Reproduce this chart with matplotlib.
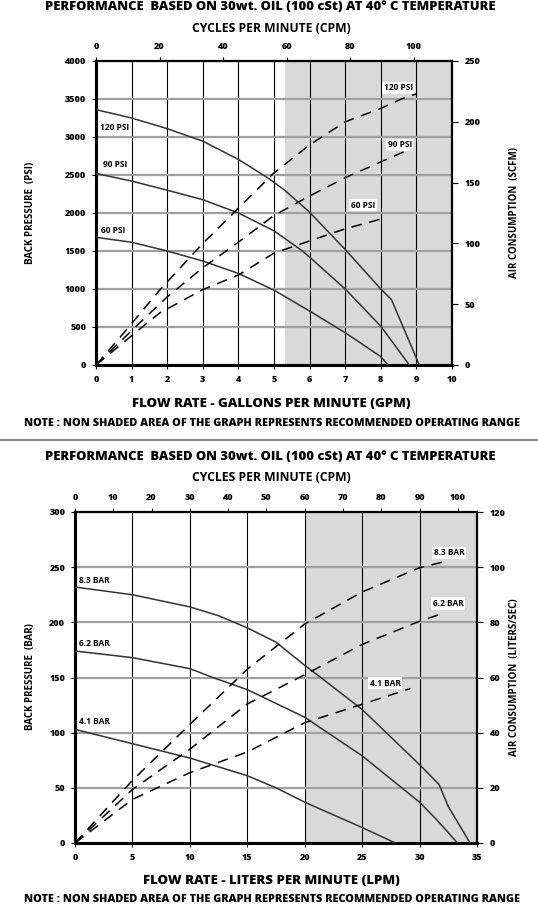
import matplotlib
matplotlib.use('Agg')
import matplotlib.pyplot as plt
from matplotlib.lines import Line2D

plt.rcParams['font.family'] = ['Open Sans', 'DejaVu Sans']
plt.rcParams['font.weight'] = 'bold'

# ---- top chart data (GPM / PSI / SCFM) ----
gpm_120 = [0, 1, 2, 3, 4, 4.8, 5.3, 6, 7, 8, 8.3, 8.7, 9.08]
psi_120 = [3360, 3250, 3110, 2945, 2705, 2470, 2300, 2010, 1520, 1000, 860, 420, 0]
gpm_90 = [0, 1, 2, 3, 4, 5, 5.8, 6, 7, 8, 8.3, 8.8]
psi_90 = [2520, 2420, 2300, 2175, 2000, 1765, 1500, 1420, 1000, 510, 320, 0]
gpm_60 = [0, 1, 2, 3, 4, 5, 6, 7, 8, 8.2]
psi_60 = [1680, 1615, 1500, 1368, 1205, 985, 710, 425, 110, 0]

gpm_air_120 = [0, 0.77, 1.8, 3, 4, 5, 6, 7, 8, 8.6, 9.0]
scfm_120 = [0, 26, 62, 100, 129, 158, 181, 200, 211, 219, 223]
gpm_air_90 = [0, 1.24, 2, 3, 4, 5, 6, 7, 8, 8.7]
scfm_90 = [0, 35, 56, 80, 101, 123, 139, 154, 167, 176]
gpm_air_60 = [0, 1.33, 1.8, 3, 4, 5, 6, 7, 8]
scfm_60 = [0, 32, 43, 62, 74, 92, 102, 112, 120]

# ---- bottom chart data (LPM / BAR / LITERS/SEC) ----
lpm_83 = [0, 5, 10, 12.5, 15, 17.5, 20, 21.4, 25, 30, 31.7, 32.5, 34.4]
bar_83 = [232, 225, 214, 206, 195, 182, 161, 150, 121, 71, 53, 33, 0]
lpm_62 = [0, 5, 10, 12, 15, 20, 25, 30, 31.5, 33.3]
bar_62 = [174, 168, 158, 150, 139, 114, 79, 37, 21, 0]
lpm_41 = [0, 5, 10, 15, 17.5, 20, 25, 27.9]
bar_41 = [103, 90, 77, 61, 50, 37, 14, 0]

lpm_air_83 = [0, 5, 10, 15, 20, 25, 30, 32.2]
lps_83 = [0, 22.7, 43, 63, 79.4, 91, 99.8, 102]
lpm_air_62 = [0, 5, 10, 15, 20, 25, 30, 32]
lps_62 = [0, 19.4, 34, 50.4, 61, 72, 80.4, 83.2]
lpm_air_41 = [0, 5, 10, 15, 20, 25, 29.2]
lps_41 = [0, 15.8, 25.5, 33, 43.6, 50.3, 56]

W, H = 538, 907
fig = plt.figure(figsize=(W / 100, H / 100), dpi=100)

title = 'PERFORMANCE  BASED ON 30wt. OIL (100 cSt) AT 40\u00b0 C TEMPERATURE'
note = 'NOTE : NON SHADED AREA OF THE GRAPH REPRESENTS RECOMMENDED OPERATING RANGE'
solid_col = '#333333'
tick_fs = 6.5


def fy(py):
    return 1 - py / H


def make_chart(box, xmax, xstep, ymax, ystep, shade_from, rmax, rstep, cpm_max, cpm_step):
    l, t, r, b = box
    ax = fig.add_axes([l / W, fy(b), (r - l) / W, (b - t) / H])
    ax.set_xlim(0, xmax)
    ax.set_ylim(0, ymax)
    ax.set_xticks(range(0, xmax + 1, xstep))
    ax.set_yticks(range(0, ymax + 1, ystep))
    ax.axvspan(shade_from, xmax, color='#d9d9d9', zorder=0, lw=0)
    ax.xaxis.grid(True, color='black', lw=0.8)
    ax.yaxis.grid(True, color='#a0a0a0', lw=1.6)
    for s in ax.spines.values():
        s.set_linewidth(1.6)
    ax.spines['left'].set_linewidth(2.2)
    ax.spines['bottom'].set_linewidth(2.2)
    ax.tick_params(labelsize=tick_fs, length=3, width=0.8, pad=4)

    axr = ax.twinx()
    axr.set_ylim(0, rmax)
    axr.set_yticks(range(0, rmax + 1, rstep))
    axr.tick_params(labelsize=tick_fs, length=4, width=0.8, pad=5)

    axt = ax.twiny()
    axt.set_xlim(0, cpm_max)
    axt.set_xticks(range(0, int(cpm_max) + 1, cpm_step))
    axt.tick_params(labelsize=tick_fs, length=3, width=0.8, pad=4)
    for a in (axr, axt):
        for s in a.spines.values():
            s.set_visible(False)
    for a in (ax, axr, axt):
        for lab in a.get_xticklabels() + a.get_yticklabels():
            lab.set_fontweight(800)
    return ax, axr


def chart_texts(top, xlabel, ylab_l, ylab_r, ymid, note_y, xlab_y):
    fig.text(270 / W, fy(top), title, ha='center', va='center', fontsize=9.4, weight=800)
    fig.text(271 / W, fy(top + 21), 'CYCLES PER MINUTE (CPM)', ha='center', va='center',
             fontsize=8.7, weight='bold')
    fig.text(271 / W, fy(xlab_y), xlabel, ha='center', va='center', fontsize=9.5, weight=800)
    fig.text(272 / W, fy(note_y), note, ha='center', va='center', fontsize=7.8, weight=800)
    fig.text(30 / W, fy(ymid), ylab_l, rotation=90, ha='center', va='center',
             fontsize=7, weight='bold')
    fig.text(514 / W, fy(ymid), ylab_r, rotation=90, ha='center', va='center',
             fontsize=7, weight='bold')


box = dict(facecolor='white', edgecolor='none', pad=1.2)
dash = (0, (7, 5))

# ---------------- top chart ----------------
ax, axr = make_chart((96, 61, 452, 365), 10, 1, 4000, 500, 5.3, 250, 50, 112, 20)
for x, y in [(gpm_120, psi_120), (gpm_90, psi_90), (gpm_60, psi_60)]:
    ax.plot(x, y, color=solid_col, lw=1.1, zorder=3)
for x, y in [(gpm_air_120, scfm_120), (gpm_air_90, scfm_90), (gpm_air_60, scfm_60)]:
    axr.plot(x, y, color='black', lw=1.1, ls=dash)

ax.text(8.5, 3645, '120 PSI', fontsize=6, ha='center', va='center', bbox=box, zorder=4)
ax.text(8.53, 2895, '90 PSI', fontsize=6, ha='center', va='center', bbox=box, zorder=4)
ax.text(7.5, 2105, '60 PSI', fontsize=6, ha='center', va='center', bbox=box, zorder=4)
ax.text(0.1, 3123, '120 PSI', fontsize=6, ha='left', va='center')
ax.text(0.2, 2632, '90 PSI', fontsize=6, ha='left', va='center')
ax.text(0.13, 1772, '60 PSI', fontsize=6, ha='left', va='center')

chart_texts(7, 'FLOW RATE - GALLONS PER MINUTE (GPM)', 'BACK PRESSURE  (PSI)',
            'AIR CONSUMPTION  (SCFM)', 213, 424, 404)

fig.add_artist(Line2D([0, 1], [fy(440), fy(440)], color='#8a8a8a', lw=1.6))

# ---------------- bottom chart ----------------
ax2, axr2 = make_chart((75, 512, 477, 843), 35, 5, 300, 50, 20, 120, 20, 105, 10)
for x, y in [(lpm_83, bar_83), (lpm_62, bar_62), (lpm_41, bar_41)]:
    ax2.plot(x, y, color=solid_col, lw=1.1, zorder=3)
for x, y in [(lpm_air_83, lps_83), (lpm_air_62, lps_62), (lpm_air_41, lps_41)]:
    axr2.plot(x, y, color='black', lw=1.1, ls=dash)

ax2.text(32.6, 263, '8.3 BAR', fontsize=6, ha='center', va='center', bbox=box, zorder=4)
ax2.text(32.5, 217, '6.2 BAR', fontsize=6, ha='center', va='center', bbox=box, zorder=4)
ax2.text(27.0, 145, '4.1 BAR', fontsize=6, ha='center', va='center', bbox=box, zorder=4)
ax2.text(0.36, 238, '8.3 BAR', fontsize=6, ha='left', va='center')
ax2.text(0.36, 181, '6.2 BAR', fontsize=6, ha='left', va='center')
ax2.text(0.36, 110, '4.1 BAR', fontsize=6, ha='left', va='center')

chart_texts(457, 'FLOW RATE - LITERS PER MINUTE (LPM)', 'BACK PRESSURE  (BAR)',
            'AIR CONSUMPTION  (LITERS/SEC)', 677, 900, 881)

fig.savefig('out.png', dpi=100, facecolor='white')
